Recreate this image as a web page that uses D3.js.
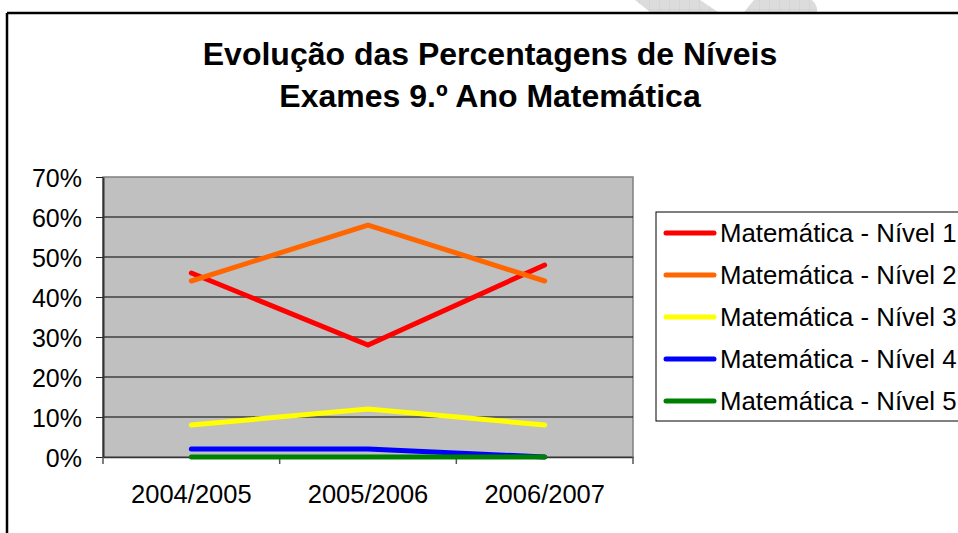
<!DOCTYPE html>
<html>
<head>
<meta charset="utf-8">
<style>
  body { margin: 0; background: #fff; }
  svg { display: block; font-family: "Liberation Sans", Arial, sans-serif; }
</style>
</head>
<body>
<div class="chartContainer"></div>

<script src="https://d3js.org/d3.v7.min.js"></script>
<script>
    // dados
    const categories = ['2004/2005', '2005/2006', '2006/2007'];
    const seriesNames = ['Matemática - Nível 1', 'Matemática - Nível 2', 'Matemática - Nível 3',
                         'Matemática - Nível 4', 'Matemática - Nível 5'];
    const nivel1 = [46, 28, 48];
    const nivel2 = [44, 58, 44];
    const nivel3 = [8, 12, 8];
    const nivel4 = [2, 2, 0];
    const nivel5 = [0, 0, 0];
    const yTicks = [0, 10, 20, 30, 40, 50, 60, 70];
    const titleLines = ['Evolução das Percentagens de Níveis', 'Exames 9.º Ano Matemática'];

    const colors = ['#ff0000', '#ff6600', '#ffff00', '#0000ff', '#008000'];
    const series = [nivel1, nivel2, nivel3, nivel4, nivel5].map((v, i) => ({name: seriesNames[i], values: v, color: colors[i]}));

    const W = 958, H = 533;
    const plot = {left: 103, top: 177, right: 633, bottom: 457};

    const svg = d3.select('.chartContainer')
                  .append('svg')
                  .attr('width', W)
                  .attr('height', H);

    // marca de agua cinzenta no topo
    const defs = svg.append('defs');
    const pat = defs.append('pattern').attr('id', 'grelha')
                    .attr('width', 10).attr('height', 10).attr('patternUnits', 'userSpaceOnUse');
    pat.append('rect').attr('width', 10).attr('height', 10).attr('fill', '#dcdcdc');
    pat.append('path').attr('d', 'M10 0 V10 M0 10 H10').attr('stroke', '#cfcfcf').attr('stroke-width', 1);
    svg.append('path').attr('d', 'M635 0 L700 0 L718 12 L650 12 Z').attr('fill', 'url(#grelha)');
    svg.append('path').attr('d', 'M754 0 L812 0 Q818 6 817 12 L744 12 Z').attr('fill', 'url(#grelha)');

    // moldura do grafico
    svg.append('line').attr('x1', 7).attr('y1', 13).attr('x2', W).attr('y2', 13)
       .style('stroke', '#000').style('stroke-width', 2.5);
    svg.append('line').attr('x1', 7).attr('y1', 13).attr('x2', 7).attr('y2', H)
       .style('stroke', '#000').style('stroke-width', 2.5);

    // titulo
    svg.append('g').selectAll('text')
       .data(titleLines)
       .enter()
       .append('text')
       .attr('x', 490)
       .attr('y', (d, i) => 65 + i * 42)
       .attr('text-anchor', 'middle')
       .style('font-size', '32px')
       .style('font-weight', 'bold')
       .text(d => d);

    // escalas
    const x = d3.scaleBand().domain(categories).range([plot.left, plot.right]).padding(0);
    const y = d3.scaleLinear().domain([0, 70]).range([plot.bottom, plot.top]);

    // area do grafico
    svg.append('rect')
       .attr('x', plot.left).attr('y', plot.top)
       .attr('width', plot.right - plot.left).attr('height', plot.bottom - plot.top)
       .style('fill', '#c0c0c0').style('stroke', '#808080').style('stroke-width', 1.5);

    // linhas de grelha
    svg.append('g').selectAll('line')
       .data(yTicks.filter(t => t > 0 && t < 70))
       .enter()
       .append('line')
       .attr('x1', plot.left).attr('x2', plot.right)
       .attr('y1', d => y(d)).attr('y2', d => y(d))
       .style('stroke', '#000').style('stroke-width', 1);

    // eixo Y
    const yAxis = svg.append('g')
                     .attr('transform', `translate(${plot.left},0)`)
                     .call(d3.axisLeft(y).tickValues(yTicks).tickSize(7).tickSizeOuter(0).tickPadding(14)
                             .tickFormat(d => d + '%'));
    yAxis.select('.domain').style('stroke', '#333').style('stroke-width', 2);
    yAxis.selectAll('.tick line').style('stroke', '#222');
    yAxis.selectAll('text').style('font-size', '25px').style('fill', '#000')
         .attr('dy', '0.36em').style('font-family', '"Liberation Sans", Arial, sans-serif');

    // eixo X
    const xAxis = svg.append('g')
                     .attr('transform', `translate(0,${plot.bottom})`)
                     .call(d3.axisBottom(x).tickSize(0).tickPadding(28));
    xAxis.select('.domain').style('stroke', '#333').style('stroke-width', 1.5);
    xAxis.selectAll('text').style('font-size', '25.5px').style('fill', '#000')
         .style('font-family', '"Liberation Sans", Arial, sans-serif');

    const edges = categories.map(c => x(c)).concat([x(categories[categories.length - 1]) + x.bandwidth()]);
    svg.append('g').selectAll('line')
       .data(edges)
       .enter()
       .append('line')
       .attr('x1', d => d).attr('x2', d => d)
       .attr('y1', plot.bottom).attr('y2', plot.bottom + 7)
       .style('stroke', '#555').style('stroke-width', 1.5);

    // series
    const line = d3.line()
                   .x((d, i) => x(categories[i]) + x.bandwidth() / 2)
                   .y(d => y(d));

    svg.append('g').selectAll('path')
       .data(series)
       .enter()
       .append('path')
       .attr('d', d => line(d.values))
       .style('fill', 'none')
       .style('stroke', d => d.color)
       .style('stroke-width', 5)
       .style('stroke-linecap', 'round')
       .style('stroke-linejoin', 'miter');

    // legenda
    const legend = svg.append('g');
    legend.append('rect')
          .attr('x', 656).attr('y', 212)
          .attr('width', 320).attr('height', 209)
          .style('fill', '#fff').style('stroke', '#000').style('stroke-width', 1);

    const items = legend.selectAll('g.item')
                        .data(series)
                        .enter()
                        .append('g')
                        .attr('class', 'item')
                        .attr('transform', (d, i) => `translate(0,${233 + i * 42})`);
    items.append('line')
         .attr('x1', 666).attr('x2', 714).attr('y1', 0).attr('y2', 0)
         .style('stroke', d => d.color).style('stroke-width', 5).style('stroke-linecap', 'round');
    items.append('text')
         .attr('x', 720).attr('y', 0).attr('dy', '0.36em')
         .style('font-size', '25.8px')
         .text(d => d.name);
</script>
</body>
</html>
